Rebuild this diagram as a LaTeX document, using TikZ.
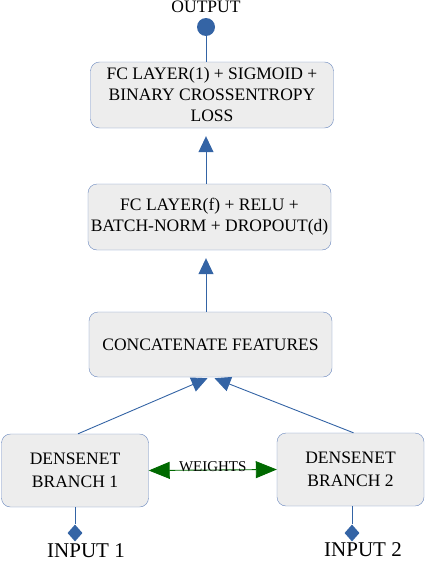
\documentclass[tikz,border=0pt]{standalone}
\usepackage{fontspec}
\setmainfont{Liberation Serif}
\usetikzlibrary{arrows.meta,shapes.geometric}
\definecolor{boxfill}{RGB}{237,237,237}
\definecolor{boxline}{RGB}{105,135,190}
\definecolor{linkblue}{RGB}{52,100,165}
\definecolor{wgreen}{RGB}{0,105,0}
\begin{document}
\begin{tikzpicture}[x=1pt,y=-1pt,
	block/.style={draw=boxline,fill=boxfill,rounded corners=9pt,minimum width=243pt,minimum height=66pt,inner sep=1pt,align=center,font=\fontsize{17.5}{21}\selectfont},
	branch/.style={block,minimum width=147pt,minimum height=73pt,font=\fontsize{17.5}{23}\selectfont},
	link/.style={draw=linkblue,line width=0.9pt},
	uparrow/.style={link,-{Triangle[length=16pt,width=15pt]}},
	weightlink/.style={draw=wgreen,line width=0.9pt,{Triangle[length=21pt,width=17pt]}-{Triangle[length=21pt,width=17pt]}}]
	\useasboundingbox (0,0) rectangle (426,562);
	\node[font=\fontsize{17.5}{17.5}\selectfont] at (206,7)   (outlabel) {OUTPUT};
	\node[circle,fill=linkblue,minimum size=18pt,inner sep=0pt] at (206,27)   (out) {};
	\node[block] at (212,95)   (loss) {FC LAYER(1) + SIGMOID +\\BINARY CROSSENTROPY\\LOSS};
	\node[block] at (209.5,217)   (fc) {FC LAYER(f) + RELU +\\BATCH-NORM + DROPOUT(d)};
	\node[block,minimum height=65pt] at (210.5,344.5)   (concat) {CONCATENATE FEATURES};
	\node[branch] at (75,470.5)   (dn1) {DENSENET\\BRANCH 1};
	\node[branch] at (350.5,469.5)   (dn2) {DENSENET\\BRANCH 2};
	\node[diamond,fill=linkblue,minimum width=15pt,minimum height=17pt,inner sep=0pt] at (75,533)   (in1) {};
	\node[diamond,fill=linkblue,minimum width=15pt,minimum height=17pt,inner sep=0pt] at (352,533)   (in2) {};
	\node[font=\fontsize{21}{21}\selectfont] at (86,551)   (inlabel1) {INPUT 1};
	\node[font=\fontsize{21}{21}\selectfont] at (363,550)   (inlabel2) {INPUT 2};
	%
	\draw[link] (out) -- (out |- loss.north);
	\draw[uparrow,shorten >=8pt] (out |- fc.north) -- (out |- loss.south);
	\draw[uparrow,shorten >=8pt] (out |- concat.north) -- (out |- fc.south);
	\draw[uparrow] ([xshift=3pt]dn1.north) -- ([xshift=-3pt,yshift=-1pt]concat.south);
	\draw[uparrow] ([xshift=3pt]dn2.north) -- ([xshift=4pt,yshift=-1pt]concat.south);
	\draw[weightlink] (dn1.east) -- (dn2.west) node[midway,above=-6pt,font=\fontsize{15}{15}\selectfont] (wlabel) {WEIGHTS};
	\draw[link] (dn1.south) -- (in1.north);
	\draw[link] (dn2.south -| in2) -- (in2.north);
\end{tikzpicture}
\end{document}
